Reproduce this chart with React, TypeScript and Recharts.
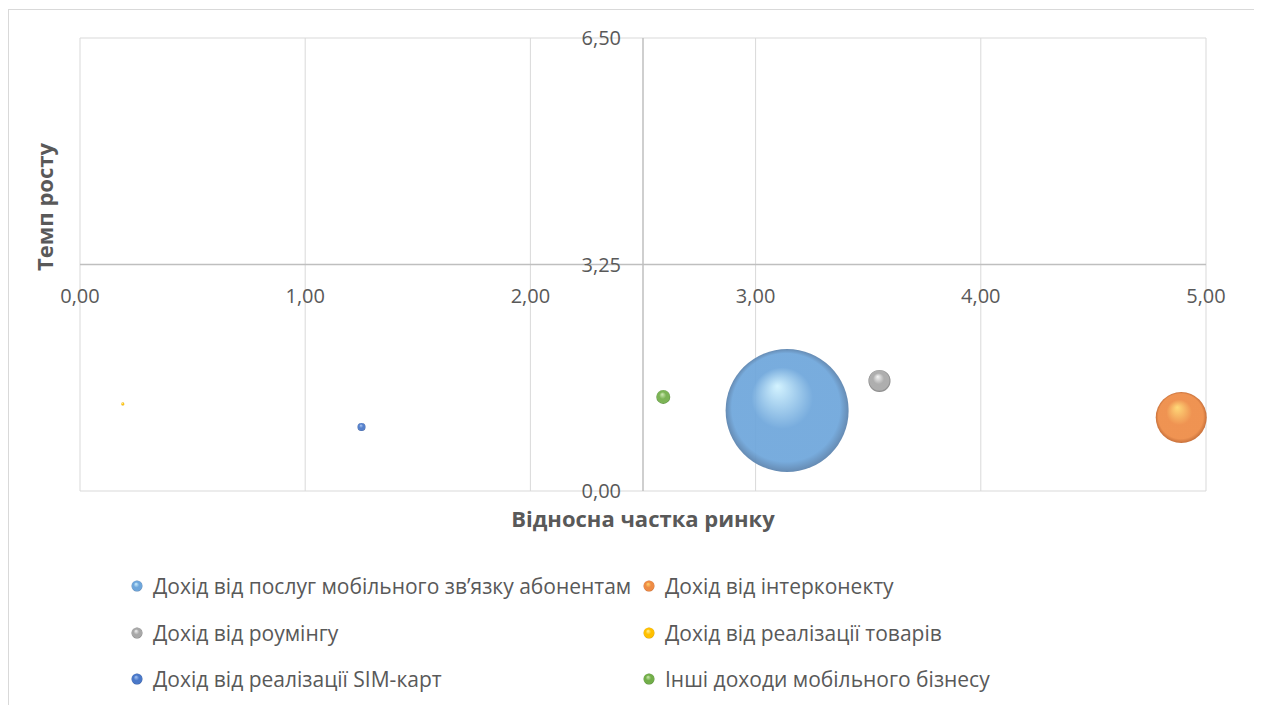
import React from 'react';
import { ScatterChart, Scatter, XAxis, YAxis, ZAxis, ReferenceLine, ReferenceDot } from 'recharts';

// Revenue streams of the mobile business (BCG-style bubble matrix)
const seriesNames = [
  'Дохід від послуг мобільного зв’язку абонентам',
  'Дохід від інтерконекту',
  'Дохід від роумінгу',
  'Дохід від реалізації товарів',
  'Дохід від реалізації SIM-карт',
  'Інші доходи мобільного бізнесу',
];
// relative market share
const marketShare = [3.14, 4.89, 3.55, 0.19, 1.25, 2.59];
// growth rate
const growthRate = [1.155, 1.055, 1.58, 1.25, 0.92, 1.35];
// share of revenue (bubble size)
const revenueShare = [78, 13.4, 2.5, 0.05, 0.33, 1.0];

const xTicks = [0, 1, 2, 3, 4, 5];
const yTicks = [0, 3.25, 6.5];
const xCross = 2.5;
const yCross = 3.25;

const palette = [
  { light: '#d0f2ff', mid: '#6ea6db', edge: '#5a82ad' },
  { light: '#ffd66e', mid: '#ee8b45', edge: '#c4662c' },
  { light: '#f4f4f4', mid: '#a8a8a8', edge: '#7a7a7a' },
  { light: '#fff1a0', mid: '#ffc000', edge: '#d09a00' },
  { light: '#a8c6f6', mid: '#4a78c8', edge: '#30559a' },
  { light: '#cdeab0', mid: '#72ae49', edge: '#4d8430' },
];

const FONT = '"Open Sans", sans-serif';
const TEXT = '#595959';
const GRID = '#d9d9d9';
const AXIS = '#bfbfbf';

const fmt = (v: number) => v.toFixed(2).replace('.', ',');

const GradientStops = ({ i }: { i: number }) => (
  <>
    <stop offset="0%" stopColor={palette[i].light} />
    <stop offset="50%" stopColor={palette[i].mid} />
    <stop offset="88%" stopColor={palette[i].mid} />
    <stop offset="100%" stopColor={palette[i].edge} />
  </>
);

const makeSphere = (i: number) => (props: any) => {
  const { cx, cy, width, size } = props;
  const r = width ? width / 2 : Math.sqrt((size || 0) / Math.PI);
  const id = `sphere-${i}`;
  return (
    <g>
      <defs>
        <radialGradient id={id} cx="50%" cy="50%" r="50%" fx="42%" fy="30%">
          <GradientStops i={i} />
        </radialGradient>
      </defs>
      <circle cx={cx} cy={cy} r={Math.max(r, 1.2)} fill={`url(#${id})`} fillOpacity={0.93} />
    </g>
  );
};

const LegendMarker = ({ i }: { i: number }) => (
  <svg width={12} height={12} style={{ display: 'block' }}>
    <defs>
      <radialGradient id={`lg-${i}`} cx="50%" cy="50%" r="50%" fx="40%" fy="30%">
        <GradientStops i={i} />
      </radialGradient>
    </defs>
    <circle cx={6} cy={6} r={5.5} fill={`url(#lg-${i})`} />
  </svg>
);

const legendRows = [
  [0, 1],
  [2, 3],
  [4, 5],
];
const legendRowY = [576, 623, 669];
const legendColX = [122, 634];

export default function App() {
  const maxZ = Math.max(...revenueShare);
  const maxArea = Math.PI * 61.5 * 61.5;
  return (
    <div
      style={{
        position: 'relative',
        width: 1248,
        height: 696,
        marginTop: 1,
        border: `1px solid ${GRID}`,
        borderBottom: 'none',
        boxSizing: 'border-box',
        background: '#fff',
        fontFamily: FONT,
      }}
    >
      <ScatterChart width={1246} height={695} margin={{ top: 28, right: 49, bottom: 214, left: 71 }}>
        <XAxis type="number" dataKey="x" domain={[0, 5]} hide />
        <YAxis type="number" dataKey="y" domain={[0, 6.5]} hide />
        <ZAxis type="number" dataKey="z" domain={[0, maxZ]} range={[0, maxArea]} />
        {xTicks.map((t) => (
          <ReferenceLine key={`gx${t}`} x={t} stroke={GRID} strokeWidth={1} />
        ))}
        {yTicks.map((t) => (
          <ReferenceLine key={`gy${t}`} y={t} stroke={t === yCross ? AXIS : GRID} strokeWidth={t === yCross ? 1.5 : 1} />
        ))}
        <ReferenceLine x={xCross} stroke={AXIS} strokeWidth={1.5} />
        {xTicks.map((t) => (
          <ReferenceDot
            key={`lx${t}`}
            x={t}
            y={yCross}
            r={0}
            fill="none"
            stroke="none"
            label={{ value: fmt(t), position: 'bottom', offset: 24, fill: TEXT, fontSize: 20, fontFamily: FONT }}
          />
        ))}
        {yTicks.map((t) => (
          <ReferenceDot
            key={`ly${t}`}
            x={xCross}
            y={t}
            r={0}
            fill="none"
            stroke="none"
            label={{ value: fmt(t), position: 'left', offset: 22, fill: TEXT, fontSize: 20, fontFamily: FONT }}
          />
        ))}
        {seriesNames.map((name, i) => (
          <Scatter
            key={name}
            name={name}
            data={[{ x: marketShare[i], y: growthRate[i], z: revenueShare[i] }]}
            fill={palette[i].mid}
            shape={makeSphere(i)}
            isAnimationActive={false}
          />
        ))}
      </ScatterChart>

      <div
        style={{
          position: 'absolute',
          left: 634,
          top: 508,
          transform: 'translate(-50%, -50%)',
          fontSize: 22,
          fontWeight: 700,
          color: TEXT,
          whiteSpace: 'nowrap',
        }}
      >
        Відносна частка ринку
      </div>
      <div
        style={{
          position: 'absolute',
          left: 35,
          top: 197,
          transform: 'translate(-50%, -50%) rotate(-90deg)',
          fontSize: 22,
          fontWeight: 700,
          color: TEXT,
          whiteSpace: 'nowrap',
        }}
      >
        Темп росту
      </div>

      {legendRows.map((row, ri) =>
        row.map((si, ci) => (
          <div
            key={`leg${si}`}
            style={{
              position: 'absolute',
              left: legendColX[ci],
              top: legendRowY[ri],
              transform: 'translateY(-50%)',
              display: 'flex',
              alignItems: 'center',
              gap: 10,
              fontSize: 21,
              color: TEXT,
              whiteSpace: 'nowrap',
            }}
          >
            <LegendMarker i={si} />
            <span>{seriesNames[si]}</span>
          </div>
        ))
      )}
    </div>
  );
}
